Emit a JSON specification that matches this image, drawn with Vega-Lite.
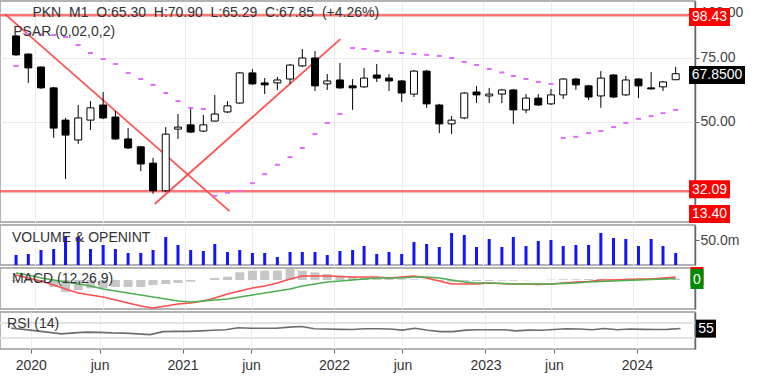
{
  "$schema": "https://vega.github.io/schema/vega-lite/v6.json",
  "padding": {"left": -2, "top": 0, "right": 0, "bottom": 0},
  "spacing": 3,
  "bounds": "flush",
  "background": "white",
  "config": {
    "font": "Liberation Sans",
    "view": {"stroke": "#9a9a9a", "strokeWidth": 1.5},
    "axis": {"labelFont": "Liberation Sans", "labelFontSize": 14, "labelColor": "#444", "tickColor": "#666", "domainColor": "#6a6a6a", "domainWidth": 1.5, "gridColor": "#ececec", "title": null}
  },
  "datasets": {
    "c": [
      {"d":"2019-11-15","o":86.3,"h":86.8,"l":76.0,"c":76.5,"v":20000000,"ps":71.3,"m":1.5,"s":2.1,"hi":-0.3,"r":56},
      {"d":"2019-12-15","o":76.9,"h":77.2,"l":64.0,"c":70.4,"v":22000000,"ps":87.4,"m":0.6,"s":1.5,"hi":-0.3,"r":53},
      {"d":"2020-01-15","o":70.8,"h":71.2,"l":61.6,"c":62.0,"v":30000000,"ps":87.1,"m":-0.3,"s":0.6,"hi":-0.9,"r":49},
      {"d":"2020-02-15","o":62.0,"h":62.4,"l":45.1,"c":48.0,"v":32000000,"ps":86.8,"m":-1.5,"s":0,"hi":-2.1,"r":45},
      {"d":"2020-03-15","o":50.5,"h":51.2,"l":34.7,"c":45.9,"v":56000000,"ps":85.7,"m":-2.7,"s":-0.6,"hi":-3.6,"r":41},
      {"d":"2020-04-15","o":44.5,"h":55.6,"l":43.4,"c":51.2,"v":56000000,"ps":81.5,"m":-3.9,"s":-1.2,"hi":-3.0,"r":43.5},
      {"d":"2020-05-15","o":50.5,"h":57.0,"l":47.4,"c":54.6,"v":32000000,"ps":77.4,"m":-4.5,"s":-1.8,"hi":-2.5,"r":45.6},
      {"d":"2020-06-15","o":55.6,"h":60.4,"l":50.8,"c":51.2,"v":40000000,"ps":74.5,"m":-5.1,"s":-2.7,"hi":-2.4,"r":45},
      {"d":"2020-07-15","o":51.5,"h":53.5,"l":44.5,"c":44.8,"v":32000000,"ps":72.2,"m":-6.0,"s":-3.3,"hi":-2.1,"r":43.5},
      {"d":"2020-08-15","o":44.8,"h":48.0,"l":42.0,"c":42.3,"v":24000000,"ps":68.2,"m":-6.9,"s":-3.9,"hi":-2.1,"r":43},
      {"d":"2020-09-15","o":42.6,"h":42.9,"l":36.5,"c":38.2,"v":24000000,"ps":65.6,"m":-7.8,"s":-4.5,"hi":-2.1,"r":41},
      {"d":"2020-10-15","o":38.4,"h":39.7,"l":31.6,"c":32.2,"v":30000000,"ps":63.2,"m":-8.4,"s":-5.1,"hi":-1.5,"r":39},
      {"d":"2020-11-15","o":32.2,"h":48.3,"l":32.0,"c":46.2,"v":56000000,"ps":60.0,"m":-7.8,"s":-5.7,"hi":-1.2,"r":47},
      {"d":"2020-12-15","o":47.7,"h":52.5,"l":44.8,"c":48.3,"v":40000000,"ps":57.0,"m":-7.2,"s":-6.3,"hi":-0.9,"r":47.7},
      {"d":"2021-01-15","o":49.0,"h":54.6,"l":46.5,"c":46.8,"v":30000000,"ps":54.6,"m":-6.9,"s":-6.6,"hi":-0.5,"r":47.7},
      {"d":"2021-02-15","o":47.1,"h":52.2,"l":46.8,"c":49.0,"v":28000000,"ps":54.2,"m":-6.3,"s":-6.3,"hi":0,"r":49},
      {"d":"2021-03-15","o":50.2,"h":59.3,"l":50.0,"c":52.5,"v":42000000,"ps":31.2,"m":-5.4,"s":-6.0,"hi":0.6,"r":50.5},
      {"d":"2021-04-15","o":53.2,"h":57.0,"l":52.8,"c":55.3,"v":26000000,"ps":31.8,"m":-4.2,"s":-5.7,"hi":1.0,"r":52},
      {"d":"2021-05-15","o":56.3,"h":68.6,"l":56.0,"c":68.2,"v":30000000,"ps":32.2,"m":-3.3,"s":-5.1,"hi":2.3,"r":57.5},
      {"d":"2021-06-15","o":68.2,"h":69.9,"l":63.2,"c":63.6,"v":24000000,"ps":33.8,"m":-2.4,"s":-4.5,"hi":2.8,"r":56},
      {"d":"2021-07-15","o":64.0,"h":66.0,"l":59.6,"c":63.2,"v":24000000,"ps":35.8,"m":-1.8,"s":-3.9,"hi":2.8,"r":56},
      {"d":"2021-08-15","o":64.0,"h":66.5,"l":61.2,"c":65.2,"v":16000000,"ps":38.0,"m":-0.9,"s":-3.3,"hi":2.8,"r":56},
      {"d":"2021-09-15","o":65.6,"h":72.2,"l":63.6,"c":71.7,"v":26000000,"ps":39.9,"m":0.3,"s":-2.7,"hi":3.3,"r":59},
      {"d":"2021-10-15","o":71.3,"h":79.4,"l":70.8,"c":75.0,"v":26000000,"ps":42.3,"m":1.2,"s":-1.8,"hi":2.8,"r":61},
      {"d":"2021-11-15","o":75.0,"h":78.4,"l":60.8,"c":62.8,"v":26000000,"ps":46.2,"m":1.2,"s":-1.2,"hi":2.3,"r":54.7},
      {"d":"2021-12-15","o":63.6,"h":67.7,"l":61.2,"c":64.8,"v":20000000,"ps":49.6,"m":1.2,"s":-0.6,"hi":1.8,"r":54},
      {"d":"2022-01-15","o":65.2,"h":72.7,"l":61.6,"c":62.0,"v":28000000,"ps":52.5,"m":1.05,"s":-0.3,"hi":1.3,"r":53},
      {"d":"2022-02-15","o":62.8,"h":65.6,"l":53.9,"c":62.0,"v":30000000,"ps":79.9,"m":0.9,"s":0,"hi":0.8,"r":52.6},
      {"d":"2022-03-15","o":62.4,"h":70.4,"l":62.0,"c":66.0,"v":38000000,"ps":79.4,"m":0.9,"s":0.3,"hi":0.6,"r":54.7},
      {"d":"2022-04-15","o":67.3,"h":72.2,"l":64.4,"c":66.0,"v":22000000,"ps":78.4,"m":0.9,"s":0.6,"hi":0.5,"r":54.7},
      {"d":"2022-05-15","o":66.0,"h":67.7,"l":60.8,"c":64.8,"v":26000000,"ps":77.9,"m":0.6,"s":0.6,"hi":0.3,"r":54},
      {"d":"2022-06-15","o":64.8,"h":65.2,"l":56.7,"c":60.0,"v":22000000,"ps":77.4,"m":0.9,"s":0.6,"hi":0.2,"r":51},
      {"d":"2022-07-15","o":59.6,"h":69.5,"l":58.5,"c":69.0,"v":46000000,"ps":76.9,"m":1.2,"s":0.9,"hi":0.2,"r":56},
      {"d":"2022-08-15","o":69.0,"h":69.5,"l":54.6,"c":56.0,"v":42000000,"ps":76.5,"m":0.6,"s":0.9,"hi":0.1,"r":50.5},
      {"d":"2022-09-15","o":55.6,"h":56.0,"l":46.5,"c":49.3,"v":36000000,"ps":76.0,"m":-0.3,"s":0.6,"hi":-0.3,"r":47},
      {"d":"2022-10-15","o":49.3,"h":51.8,"l":46.2,"c":50.5,"v":64000000,"ps":75.0,"m":-1.2,"s":0,"hi":-0.5,"r":47},
      {"d":"2022-11-15","o":51.2,"h":60.4,"l":50.8,"c":60.0,"v":60000000,"ps":73.1,"m":-1.2,"s":-0.6,"hi":-0.5,"r":51},
      {"d":"2022-12-15","o":60.4,"h":62.8,"l":56.3,"c":59.3,"v":36000000,"ps":71.7,"m":-1.2,"s":-0.9,"hi":-0.3,"r":52},
      {"d":"2023-01-15","o":58.9,"h":62.0,"l":56.3,"c":59.6,"v":52000000,"ps":69.9,"m":-0.9,"s":-0.9,"hi":-0.3,"r":52},
      {"d":"2023-02-15","o":59.6,"h":61.6,"l":56.3,"c":61.2,"v":36000000,"ps":68.4,"m":-1.05,"s":-1.05,"hi":-0.2,"r":52},
      {"d":"2023-03-15","o":61.2,"h":61.6,"l":49.3,"c":53.9,"v":56000000,"ps":66.9,"m":-1.2,"s":-1.2,"hi":-0.2,"r":49},
      {"d":"2023-04-15","o":53.9,"h":59.6,"l":52.8,"c":58.1,"v":38000000,"ps":65.6,"m":-1.2,"s":-1.2,"hi":-0.1,"r":51},
      {"d":"2023-05-15","o":58.1,"h":59.6,"l":55.3,"c":55.6,"v":48000000,"ps":64.4,"m":-1.35,"s":-1.2,"hi":0,"r":50.5},
      {"d":"2023-06-15","o":56.0,"h":61.6,"l":55.6,"c":59.3,"v":50000000,"ps":63.6,"m":-1.2,"s":-1.2,"hi":0.1,"r":52.6},
      {"d":"2023-07-15","o":59.3,"h":66.0,"l":57.8,"c":65.6,"v":38000000,"ps":45.1,"m":-0.9,"s":-1.05,"hi":0.2,"r":54.7},
      {"d":"2023-08-15","o":65.6,"h":66.0,"l":61.2,"c":63.2,"v":40000000,"ps":45.4,"m":-0.6,"s":-0.9,"hi":0.2,"r":54},
      {"d":"2023-09-15","o":62.8,"h":63.2,"l":57.4,"c":58.5,"v":40000000,"ps":46.5,"m":-0.45,"s":-0.6,"hi":0.3,"r":52},
      {"d":"2023-10-15","o":58.9,"h":69.0,"l":54.6,"c":66.0,"v":64000000,"ps":47.1,"m":0,"s":-0.45,"hi":0.3,"r":55.4},
      {"d":"2023-11-15","o":67.3,"h":67.7,"l":58.1,"c":58.5,"v":54000000,"ps":48.3,"m":0,"s":-0.3,"hi":0.3,"r":52},
      {"d":"2023-12-15","o":59.3,"h":66.9,"l":58.9,"c":65.2,"v":52000000,"ps":49.6,"m":0.15,"s":-0.15,"hi":0.3,"r":54},
      {"d":"2024-01-15","o":65.6,"h":66.0,"l":58.1,"c":62.8,"v":38000000,"ps":50.9,"m":0.3,"s":0,"hi":0.3,"r":53},
      {"d":"2024-02-15","o":62.0,"h":68.6,"l":61.4,"c":61.6,"v":52000000,"ps":51.8,"m":0.3,"s":0.15,"hi":0.3,"r":52.6},
      {"d":"2024-03-15","o":62.4,"h":64.8,"l":60.8,"c":64.4,"v":38000000,"ps":52.8,"m":0.6,"s":0.3,"hi":0.3,"r":53},
      {"d":"2024-04-15","o":65.30,"h":70.90,"l":65.29,"c":67.85,"v":24000000,"ps":53.9,"m":0.9,"s":0.45,"hi":0.45,"r":55.4}
    ],
    "tl": [
      {"d":"2019-10-19","p":99.2,"g":"a"},
      {"d":"2021-04-20","p":28.3,"g":"a"},
      {"d":"2020-10-19","p":29.6,"g":"b"},
      {"d":"2022-01-16","p":84.6,"g":"b"}
    ]
  },
  "vconcat": [
    {
      "width": 695,
      "height": 221,
      "layer": [
        {"data": {"values": [{}]}, "mark": {"type": "rule", "color": "#ff5c5c", "strokeWidth": 2.5, "opacity": 0.85, "clip": true}, "encoding": {"y": {"datum": 98.43, "type": "quantitative"}}},
        {"data": {"values": [{}]}, "mark": {"type": "rule", "color": "#ff5c5c", "strokeWidth": 2.5, "opacity": 0.85, "clip": true}, "encoding": {"y": {"datum": 32.09, "type": "quantitative"}}},
        {"data": {"name": "tl"}, "mark": {"type": "line", "color": "#ff4040", "strokeWidth": 1.8, "opacity": 0.9, "clip": true},
         "encoding": {"x": {"field": "d", "type": "temporal"}, "y": {"field": "p", "type": "quantitative"}, "detail": {"field": "g"}}},
        {"data": {"name": "c"}, "mark": {"type": "rule", "color": "#000", "strokeWidth": 1},
         "encoding": {
           "x": {"field": "d", "type": "temporal",
                 "scale": {"type": "utc", "domain": [{"year": 2019, "month": 10, "date": 19, "utc": true}, {"year": 2024, "month": 5, "date": 20, "utc": true}]},
                 "axis": {"labels": false, "ticks": false, "domain": false, "grid": true,
                          "values": [{"year":2020,"month":1,"date":1,"utc":true},{"year":2020,"month":6,"date":15,"utc":true},{"year":2021,"month":1,"date":1,"utc":true},{"year":2021,"month":6,"date":15,"utc":true},{"year":2022,"month":1,"date":1,"utc":true},{"year":2022,"month":6,"date":15,"utc":true},{"year":2023,"month":1,"date":1,"utc":true},{"year":2023,"month":6,"date":15,"utc":true},{"year":2024,"month":1,"date":1,"utc":true}]}},
           "y": {"field": "l", "type": "quantitative", "scale": {"type": "log", "domain": [26.4, 107.8], "nice": false, "zero": false},
                 "axis": {"orient": "right", "values": [50, 75, 100], "format": ".2f", "grid": true, "tickSize": 4, "labelPadding": 1}},
           "y2": {"field": "h"}
         }},
        {"data": {"name": "c"}, "mark": {"type": "bar", "width": 7, "stroke": "#000", "strokeWidth": 1},
         "encoding": {"x": {"field": "d", "type": "temporal"}, "y": {"field": "o", "type": "quantitative"}, "y2": {"field": "c"},
                      "fill": {"condition": {"test": "datum.c < datum.o", "value": "#000"}, "value": "#fff"}}},
        {"data": {"name": "c"}, "mark": {"type": "tick", "orient": "horizontal", "thickness": 2, "color": "#e06cff", "opacity": 1, "filled": true},
         "encoding": {"x": {"field": "d", "type": "temporal"}, "y": {"field": "ps", "type": "quantitative"}, "size": {"value": 5}}},
        {"data": {"values": [{}]}, "mark": {"type": "text", "align": "left", "baseline": "middle", "fontSize": 14, "color": "#333"},
         "encoding": {"x": {"datum": {"year": 2019, "month": 12, "date": 25, "utc": true}, "type": "temporal"}, "y": {"datum": 99.9, "type": "quantitative"},
                      "text": {"value": "PKN\u00a0 M1\u00a0 O:65.30\u00a0 H:70.90\u00a0 L:65.29\u00a0 C:67.85\u00a0 (+4.26%)"}}},
        {"data": {"values": [{}]}, "mark": {"type": "text", "align": "left", "baseline": "middle", "fontSize": 14, "color": "#333"},
         "encoding": {"x": {"datum": {"year": 2019, "month": 11, "date": 8, "utc": true}, "type": "temporal"}, "y": {"datum": 88.5, "type": "quantitative"},
                      "text": {"value": "PSAR (0,02,0,2)"}}},
        {"data": {"values": [{}]}, "mark": {"type": "tick", "orient": "horizontal", "thickness": 18, "color": "#ff0000", "opacity": 1, "filled": true, "xOffset": 19.5, "yOffset": 1.7},
         "encoding": {"x": {"datum": {"year": 2024, "month": 5, "date": 20, "utc": true}, "type": "temporal"}, "y": {"datum": 98.43, "type": "quantitative"}, "size": {"value": 41}}},
        {"data": {"values": [{}]}, "mark": {"type": "text", "align": "center", "baseline": "middle", "fontSize": 14, "color": "#fff", "xOffset": 19.5, "yOffset": 2},
         "encoding": {"x": {"datum": {"year": 2024, "month": 5, "date": 20, "utc": true}, "type": "temporal"}, "y": {"datum": 98.43, "type": "quantitative"}, "text": {"value": "98.43"}}},
        {"data": {"values": [{}]}, "mark": {"type": "tick", "orient": "horizontal", "thickness": 18, "color": "#000000", "opacity": 1, "filled": true, "xOffset": 27, "yOffset": 1.3},
         "encoding": {"x": {"datum": {"year": 2024, "month": 5, "date": 20, "utc": true}, "type": "temporal"}, "y": {"datum": 67.85, "type": "quantitative"}, "size": {"value": 56}}},
        {"data": {"values": [{}]}, "mark": {"type": "text", "align": "center", "baseline": "middle", "fontSize": 14, "color": "#fff", "xOffset": 27, "yOffset": 1.6},
         "encoding": {"x": {"datum": {"year": 2024, "month": 5, "date": 20, "utc": true}, "type": "temporal"}, "y": {"datum": 67.85, "type": "quantitative"}, "text": {"value": "67.8500"}}},
        {"data": {"values": [{}]}, "mark": {"type": "tick", "orient": "horizontal", "thickness": 18, "color": "#ff0000", "opacity": 1, "filled": true, "xOffset": 19.5, "yOffset": -2},
         "encoding": {"x": {"datum": {"year": 2024, "month": 5, "date": 20, "utc": true}, "type": "temporal"}, "y": {"datum": 32.09, "type": "quantitative"}, "size": {"value": 41}}},
        {"data": {"values": [{}]}, "mark": {"type": "text", "align": "center", "baseline": "middle", "fontSize": 14, "color": "#fff", "xOffset": 19.5, "yOffset": -1.7},
         "encoding": {"x": {"datum": {"year": 2024, "month": 5, "date": 20, "utc": true}, "type": "temporal"}, "y": {"datum": 32.09, "type": "quantitative"}, "text": {"value": "32.09"}}},
        {"data": {"values": [{}]}, "mark": {"type": "tick", "orient": "horizontal", "thickness": 18, "color": "#ff0000", "opacity": 1, "filled": true, "xOffset": 19.5, "yOffset": 22.6},
         "encoding": {"x": {"datum": {"year": 2024, "month": 5, "date": 20, "utc": true}, "type": "temporal"}, "y": {"datum": 32.09, "type": "quantitative"}, "size": {"value": 41}}},
        {"data": {"values": [{}]}, "mark": {"type": "text", "align": "center", "baseline": "middle", "fontSize": 14, "color": "#fff", "xOffset": 19.5, "yOffset": 22.9},
         "encoding": {"x": {"datum": {"year": 2024, "month": 5, "date": 20, "utc": true}, "type": "temporal"}, "y": {"datum": 32.09, "type": "quantitative"}, "text": {"value": "13.40"}}}
      ]
    },
    {
      "width": 695,
      "height": 40,
      "layer": [
        {"data": {"name": "c"}, "mark": {"type": "bar", "width": 3, "color": "#1414ff"},
         "encoding": {
           "x": {"field": "d", "type": "temporal",
                 "scale": {"type": "utc", "domain": [{"year": 2019, "month": 10, "date": 19, "utc": true}, {"year": 2024, "month": 5, "date": 20, "utc": true}]},
                 "axis": {"labels": false, "ticks": false, "domain": false, "grid": true,
                          "values": [{"year":2020,"month":1,"date":1,"utc":true},{"year":2020,"month":6,"date":15,"utc":true},{"year":2021,"month":1,"date":1,"utc":true},{"year":2021,"month":6,"date":15,"utc":true},{"year":2022,"month":1,"date":1,"utc":true},{"year":2022,"month":6,"date":15,"utc":true},{"year":2023,"month":1,"date":1,"utc":true},{"year":2023,"month":6,"date":15,"utc":true},{"year":2024,"month":1,"date":1,"utc":true}]}},
           "y": {"field": "v", "type": "quantitative", "scale": {"domain": [0, 80000000], "nice": false},
                 "axis": {"orient": "right", "values": [50000000], "labelExpr": "format(datum.value / 1000000, '.1f') + 'm'", "grid": false, "tickSize": 4, "labelPadding": 1}}
         }},
        {"data": {"values": [{}]}, "mark": {"type": "text", "align": "left", "baseline": "middle", "fontSize": 14, "color": "#333"},
         "encoding": {"x": {"datum": {"year": 2019, "month": 11, "date": 5, "utc": true}, "type": "temporal"}, "y": {"datum": 54000000, "type": "quantitative"},
                      "text": {"value": "VOLUME & OPENINT"}}}
      ]
    },
    {
      "width": 695,
      "height": 41,
      "layer": [
        {"data": {"name": "c"}, "mark": {"type": "bar", "width": 9, "color": "#c6c6c6"},
         "encoding": {
           "x": {"field": "d", "type": "temporal",
                 "scale": {"type": "utc", "domain": [{"year": 2019, "month": 10, "date": 19, "utc": true}, {"year": 2024, "month": 5, "date": 20, "utc": true}]},
                 "axis": {"labels": false, "ticks": false, "domain": false, "grid": true,
                          "values": [{"year":2020,"month":1,"date":1,"utc":true},{"year":2020,"month":6,"date":15,"utc":true},{"year":2021,"month":1,"date":1,"utc":true},{"year":2021,"month":6,"date":15,"utc":true},{"year":2022,"month":1,"date":1,"utc":true},{"year":2022,"month":6,"date":15,"utc":true},{"year":2023,"month":1,"date":1,"utc":true},{"year":2023,"month":6,"date":15,"utc":true},{"year":2024,"month":1,"date":1,"utc":true}]}},
           "y": {"field": "hi", "type": "quantitative", "scale": {"domain": [-8.7, 3.6], "nice": false, "zero": false},
                 "axis": {"orient": "right", "labels": false, "ticks": false, "grid": false}}
         }},
        {"data": {"name": "c"}, "mark": {"type": "line", "color": "#ff4d4d", "strokeWidth": 1.6},
         "encoding": {"x": {"field": "d", "type": "temporal"}, "y": {"field": "m", "type": "quantitative"}}},
        {"data": {"name": "c"}, "mark": {"type": "line", "color": "#4caf50", "strokeWidth": 1.6},
         "encoding": {"x": {"field": "d", "type": "temporal"}, "y": {"field": "s", "type": "quantitative"}}},
        {"data": {"values": [{}]}, "mark": {"type": "text", "align": "left", "baseline": "middle", "fontSize": 14, "color": "#333"},
         "encoding": {"x": {"datum": {"year": 2019, "month": 11, "date": 5, "utc": true}, "type": "temporal"}, "y": {"datum": 0.3, "type": "quantitative"},
                      "text": {"value": "MACD (12,26,9)"}}},
        {"data": {"values": [{}]}, "mark": {"type": "tick", "orient": "horizontal", "thickness": 18, "color": "#ff0000", "opacity": 1, "filled": true, "xOffset": 7, "yOffset": -4},
         "encoding": {"x": {"datum": {"year": 2024, "month": 5, "date": 20, "utc": true}, "type": "temporal"}, "y": {"datum": 0, "type": "quantitative"}, "size": {"value": 13}}},
        {"data": {"values": [{}]}, "mark": {"type": "tick", "orient": "horizontal", "thickness": 20, "color": "#008a00", "opacity": 1, "filled": true, "xOffset": 7, "yOffset": -1},
         "encoding": {"x": {"datum": {"year": 2024, "month": 5, "date": 20, "utc": true}, "type": "temporal"}, "y": {"datum": 0, "type": "quantitative"}, "size": {"value": 13}}},
        {"data": {"values": [{}]}, "mark": {"type": "text", "align": "center", "baseline": "middle", "fontSize": 14, "color": "#fff", "xOffset": 7, "yOffset": -0.5},
         "encoding": {"x": {"datum": {"year": 2024, "month": 5, "date": 20, "utc": true}, "type": "temporal"}, "y": {"datum": 0, "type": "quantitative"}, "text": {"value": "0"}}}
      ]
    },
    {
      "width": 695,
      "height": 37,
      "layer": [
        {"data": {"values": [{"lv": 30}, {"lv": 70}]}, "mark": {"type": "rule", "color": "#e2e2e2", "strokeWidth": 2},
         "encoding": {"y": {"field": "lv", "type": "quantitative"}}},
        {"data": {"name": "c"}, "mark": {"type": "line", "color": "#6e6e6e", "strokeWidth": 1.6},
         "encoding": {
           "x": {"field": "d", "type": "temporal",
                 "scale": {"type": "utc", "domain": [{"year": 2019, "month": 10, "date": 19, "utc": true}, {"year": 2024, "month": 5, "date": 20, "utc": true}]},
                 "axis": {"grid": true, "tickSize": 4, "labelPadding": 5, "labelColor": "#333", "labelFontSize": 14, "domain": false,
                          "labelExpr": "utcmonth(datum.value) == 0 ? utcFormat(datum.value, '%Y') : 'jun'",
                          "values": [{"year":2020,"month":1,"date":1,"utc":true},{"year":2020,"month":6,"date":15,"utc":true},{"year":2021,"month":1,"date":1,"utc":true},{"year":2021,"month":6,"date":15,"utc":true},{"year":2022,"month":1,"date":1,"utc":true},{"year":2022,"month":6,"date":15,"utc":true},{"year":2023,"month":1,"date":1,"utc":true},{"year":2023,"month":6,"date":15,"utc":true},{"year":2024,"month":1,"date":1,"utc":true}]}},
           "y": {"field": "r", "type": "quantitative", "scale": {"domain": [0, 100], "nice": false},
                 "axis": {"orient": "right", "labels": false, "ticks": false, "grid": false}}
         }},
        {"data": {"values": [{}]}, "mark": {"type": "text", "align": "left", "baseline": "middle", "fontSize": 14, "color": "#333"},
         "encoding": {"x": {"datum": {"year": 2019, "month": 11, "date": 5, "utc": true}, "type": "temporal"}, "y": {"datum": 67.6, "type": "quantitative"},
                      "text": {"value": "RSI (14)"}}},
        {"data": {"values": [{}]}, "mark": {"type": "tick", "orient": "horizontal", "thickness": 18, "color": "#000000", "opacity": 1, "filled": true, "xOffset": 11},
         "encoding": {"x": {"datum": {"year": 2024, "month": 5, "date": 20, "utc": true}, "type": "temporal"}, "y": {"datum": 55, "type": "quantitative"}, "size": {"value": 20}}},
        {"data": {"values": [{}]}, "mark": {"type": "text", "align": "center", "baseline": "middle", "fontSize": 14, "color": "#fff", "xOffset": 11, "yOffset": 0.5},
         "encoding": {"x": {"datum": {"year": 2024, "month": 5, "date": 20, "utc": true}, "type": "temporal"}, "y": {"datum": 55, "type": "quantitative"}, "text": {"value": "55"}}}
      ]
    }
  ]
}
